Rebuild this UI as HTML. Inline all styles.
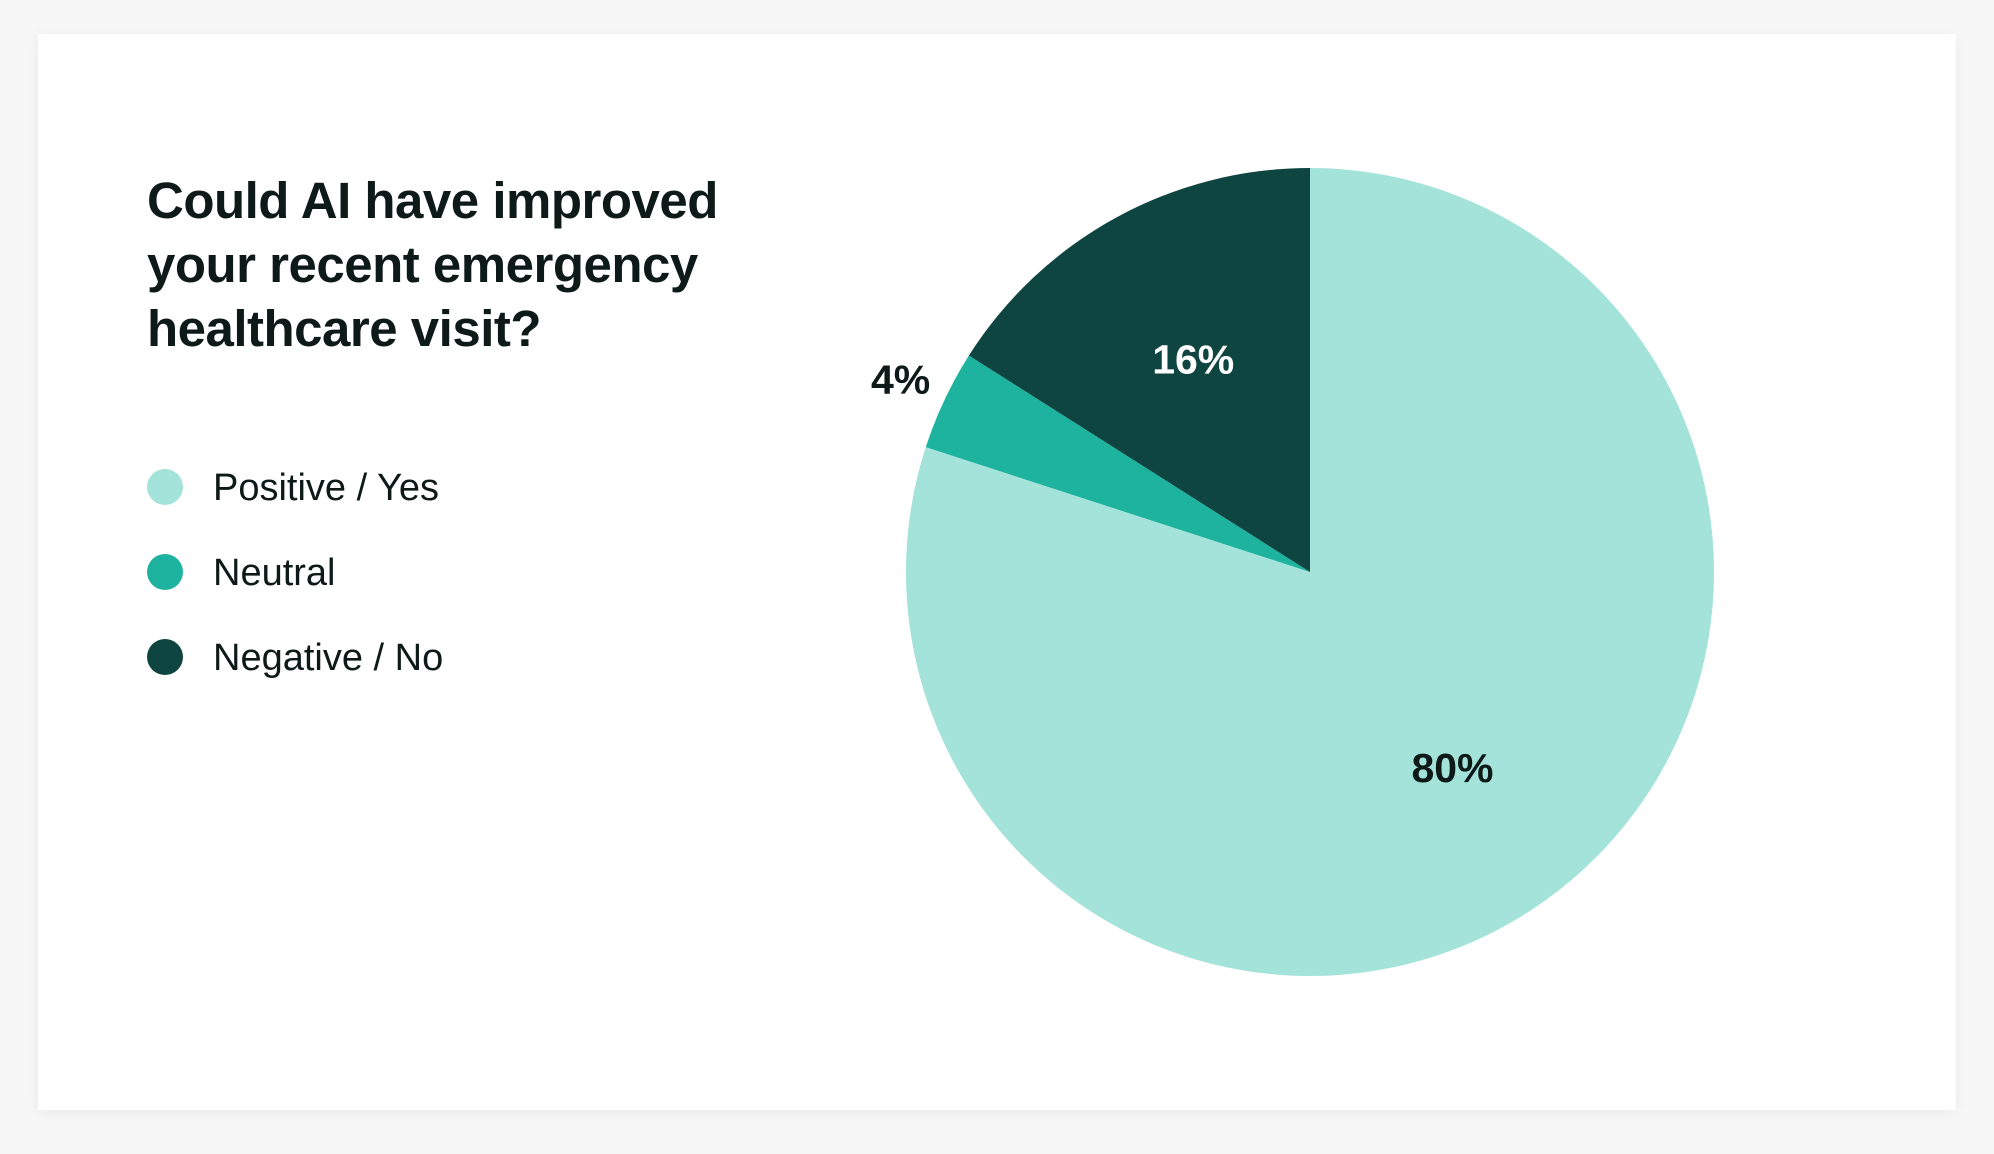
<!DOCTYPE html>
<html><head><meta charset="utf-8">
<style>
html,body{margin:0;padding:0;background:#f7f7f7;width:1994px;height:1154px;overflow:hidden;font-family:"Liberation Sans",sans-serif;}
#card{position:absolute;left:38px;top:34px;width:1918px;height:1076px;background:#fff;box-shadow:0 2px 14px rgba(0,0,0,0.06);}
svg{position:absolute;left:0;top:0;}
</style></head>
<body>
<div id="card"></div>
<svg id="chart" width="1994" height="1154">
  <g font-size="51" font-weight="bold" fill="#0d1a17" letter-spacing="-0.5">
    <text x="147" y="218">Could AI have improved</text>
    <text x="147" y="282">your recent emergency</text>
    <text x="147" y="346">healthcare visit?</text>
  </g>
  <g id="legend"></g>
  <g id="slices"></g>
  <g id="labels"></g>
</svg>
<script>
const categories = ["Positive / Yes", "Neutral", "Negative / No"];
const values = [80, 4, 16];
const valueLabels = ["80%", "4%", "16%"];
const colors = ["#a4e3d9", "#1db39f", "#0f4540"];
const labelColors = ["#0d1a17", "#0d1a17", "#ffffff"];

const NS = "http://www.w3.org/2000/svg";
const cx = 1310, cy = 572, r = 404;
const total = values.reduce((a,b)=>a+b,0);
function pt(frac, rad){ const a = frac*2*Math.PI; return [cx + rad*Math.sin(a), cy - rad*Math.cos(a)]; }

let acc = 0;
const slicesG = document.getElementById('slices');
const labelsG = document.getElementById('labels');
values.forEach((v,i)=>{
  const f0 = acc/total, f1 = (acc+v)/total; acc += v;
  const p0 = pt(f0,r), p1 = pt(f1,r);
  const large = (f1-f0) > 0.5 ? 1 : 0;
  const path = document.createElementNS(NS,'path');
  path.setAttribute('d', `M${cx},${cy} L${p0[0]},${p0[1]} A${r},${r} 0 ${large} 1 ${p1[0]},${p1[1]} Z`);
  path.setAttribute('fill', colors[i]);
  
  
  slicesG.appendChild(path);
  const mid = (f0+f1)/2;
  const small = (f1-f0) < 0.08;
  const lp = pt(mid, small ? r*1.12 : r*0.6);
  const t = document.createElementNS(NS,'text');
  t.setAttribute('x', lp[0]); t.setAttribute('y', lp[1]+14);
  t.setAttribute('text-anchor','middle');
  t.setAttribute('font-size','41'); t.setAttribute('font-weight','bold');
  t.setAttribute('fill', small ? "#0d1a17" : labelColors[i]);
  t.textContent = valueLabels[i];
  
  
  labelsG.appendChild(t);
});

const legendG = document.getElementById('legend');
categories.forEach((c,i)=>{
  const y = 487 + i*85;
  const g = document.createElementNS(NS,'g');
  
  
  const circ = document.createElementNS(NS,'circle');
  circ.setAttribute('cx',165); circ.setAttribute('cy',y); circ.setAttribute('r',18);
  circ.setAttribute('fill', colors[i]);
  
  
  const t = document.createElementNS(NS,'text');
  t.setAttribute('x',213); t.setAttribute('y',y+13);
  t.setAttribute('font-size','38'); t.setAttribute('fill','#0d1a17');
  t.textContent = c;
  
  
  g.appendChild(circ); g.appendChild(t);
  legendG.appendChild(g);
});
</script>
</body></html>
